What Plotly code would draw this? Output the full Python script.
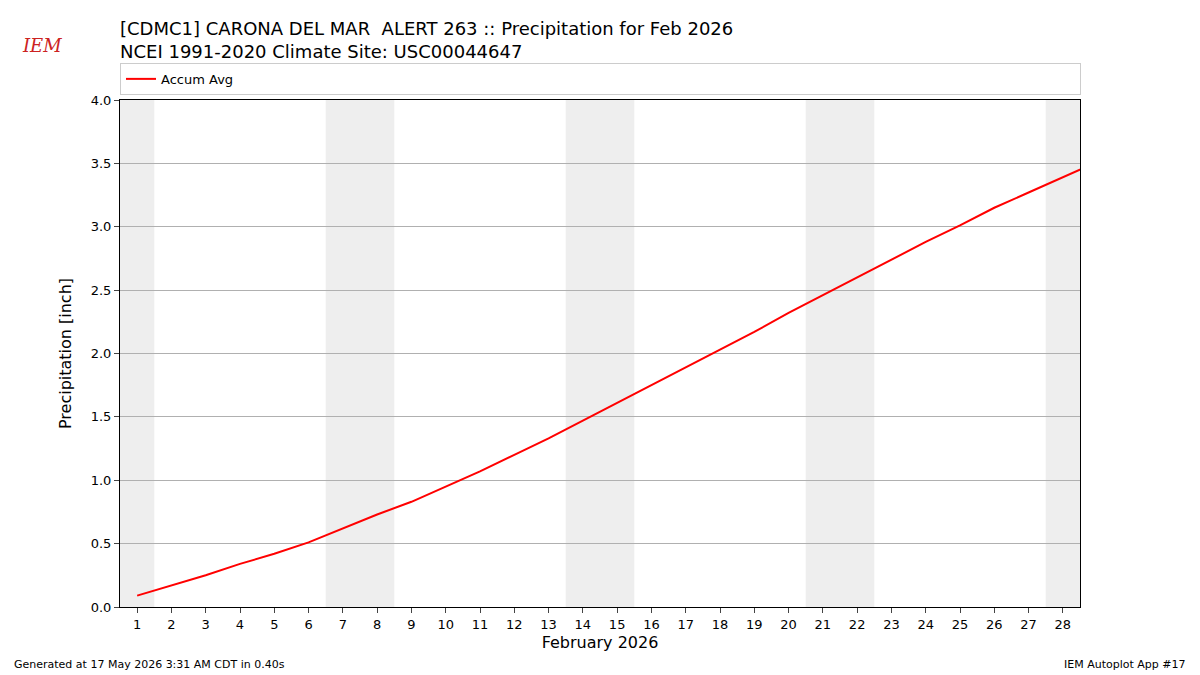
import plotly.graph_objects as go

days = list(range(1, 30))
accum_avg = [0.09, 0.17, 0.25, 0.34, 0.42, 0.51, 0.62, 0.73, 0.83, 0.95,
             1.07, 1.20, 1.33, 1.47, 1.61, 1.75, 1.89, 2.03, 2.17, 2.32,
             2.46, 2.60, 2.74, 2.88, 3.01, 3.15, 3.27, 3.39, 3.51]
weekend_days = [1, 7, 8, 14, 15, 21, 22, 28]

fig = go.Figure()
for d in weekend_days:
    fig.add_vrect(x0=d - 0.5, x1=d + 0.5, fillcolor="#eeeeee", line_width=0, layer="below")

fig.add_trace(go.Scatter(x=days, y=accum_avg, mode="lines", name="Accum Avg",
                         line=dict(color="red", width=2)))

fig.update_layout(
    width=1200, height=675, plot_bgcolor="white", paper_bgcolor="white",
    font=dict(family="DejaVu Sans", size=13, color="black"),
    margin=dict(l=112, r=128, t=92, b=76),
    title=dict(text="[CDMC1] CARONA DEL MAR  ALERT 263 :: Precipitation for Feb 2026<br>NCEI 1991-2020 Climate Site: USC00044647",
               x=112 / 1200, xanchor="left", y=0.96, yanchor="top", font=dict(size=18)),
    legend=dict(x=0, y=1.01, xanchor="left", yanchor="bottom", orientation="h",
                bordercolor="#cccccc", borderwidth=1, entrywidth=914, font=dict(size=13)),
    showlegend=True,
)
fig.update_xaxes(range=[0.5, 28.5], tickvals=list(range(1, 29)), ticks="outside",
                 showline=True, linecolor="black", mirror=True, showgrid=False,
                 title=dict(text="February 2026", font=dict(size=16), standoff=6))
fig.update_yaxes(range=[0, 4], dtick=0.5, tickformat=".1f", ticks="outside",
                 showline=True, linecolor="black", mirror=True,
                 showgrid=True, gridcolor="#b0b0b0", zeroline=False,
                 title=dict(text="Precipitation [inch]", font=dict(size=16)))


def px_x(px):
    return (px - 120) / 960


def px_y(py):
    return 1 - (py - 100) / 507


fig.add_annotation(text="<i>IEM</i>", x=px_x(20), y=px_y(46), xref="paper", yref="paper",
                   xanchor="left", yanchor="middle", showarrow=False,
                   font=dict(family="DejaVu Serif", size=18, color="#cc2222"))
fig.add_annotation(text="Generated at 17 May 2026 3:31 AM CDT in 0.40s", x=px_x(12), y=px_y(673),
                   xref="paper", yref="paper", xanchor="left", yanchor="bottom",
                   showarrow=False, font=dict(size=11))
fig.add_annotation(text="IEM Autoplot App #17", x=px_x(1188), y=px_y(673),
                   xref="paper", yref="paper", xanchor="right", yanchor="bottom",
                   showarrow=False, font=dict(size=11))

fig.write_html("out.html")
